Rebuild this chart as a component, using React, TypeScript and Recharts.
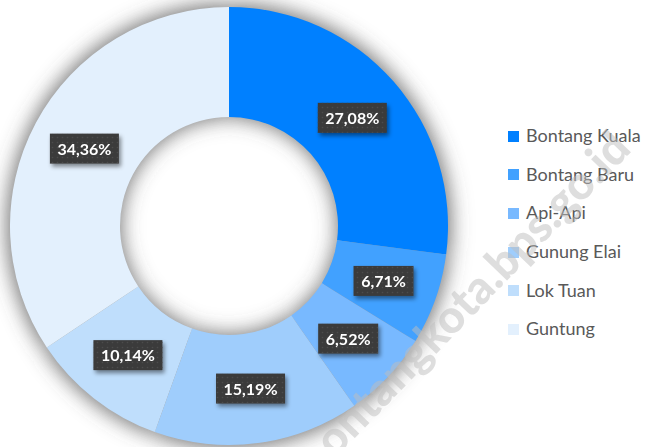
import { Cell, Legend, Pie, PieChart } from "recharts";

const kelurahan = ["Bontang Kuala", "Bontang Baru", "Api-Api", "Gunung Elai", "Lok Tuan", "Guntung"];
const persentase = [27.08, 6.71, 6.52, 15.19, 10.14, 34.36];
const warna = ["#0080FF", "#41A1FF", "#78B9FF", "#9FCDFC", "#BFDEFC", "#E3F0FD"];

const data = kelurahan.map((name, i) => ({ name, value: persentase[i] }));

const RADIAN = Math.PI / 180;
const FONT = "Lato, 'Open Sans', sans-serif";

function formatPct(v: number): string {
  return `${v.toFixed(2).replace(".", ",")}%`;
}

function textWidth(s: string): number {
  let w = 0;
  for (const ch of s) {
    if (ch === ",") w += 4;
    else if (ch === "%") w += 13;
    else w += 9;
  }
  return w;
}

function LabelBox(props: any) {
  const { cx, cy, midAngle, innerRadius, outerRadius, value } = props;
  const r = (innerRadius + outerRadius) / 2;
  const x = cx + r * Math.cos(-midAngle * RADIAN);
  const y = cy + r * Math.sin(-midAngle * RADIAN);
  const label = formatPct(value);
  const w = textWidth(label) + 16;
  const h = 30;
  return (
    <g>
      <rect
        x={x - w / 2}
        y={y - h / 2}
        width={w}
        height={h}
        fill="#3a3a3a"
        filter="url(#boxShadow)"
      />
      <rect x={x - w / 2} y={y - h / 2} width={w} height={h} fill="url(#dots)" />
      <text
        x={x}
        y={y}
        dy={6}
        fill="#ffffff"
        fontFamily={FONT}
        fontSize={16}
        fontWeight={700}
        textAnchor="middle"
      >
        {label}
      </text>
    </g>
  );
}

function LegendList() {
  return (
    <div style={{ fontFamily: FONT, fontSize: 18, color: "#595959" }}>
      {kelurahan.map((name, i) => (
        <div
          key={name}
          style={{ display: "flex", alignItems: "center", height: 38.6, whiteSpace: "nowrap" }}
        >
          <span
            style={{
              display: "inline-block",
              width: 11,
              height: 11,
              background: warna[i],
              marginRight: 7,
              marginTop: 2,
            }}
          />
          <span>{name}</span>
        </div>
      ))}
    </div>
  );
}

export default function App() {
  return (
    <div style={{ position: "relative", width: 649, height: 447, overflow: "hidden", background: "#fff" }}>
      <style>{"body{margin:0} .ring-shadow{filter:url(#ringShadow)}"}</style>
      <PieChart width={649} height={447} margin={{ top: 0, right: 0, bottom: 0, left: 0 }}>
        <defs>
          <filter id="ringShadow" x="-20%" y="-20%" width="140%" height="140%">
            <feGaussianBlur stdDeviation="7" />
          </filter>
          <filter id="boxShadow" x="-30%" y="-40%" width="160%" height="190%">
            <feDropShadow dx="2" dy="3" stdDeviation="2" floodColor="#000" floodOpacity="0.45" />
          </filter>
          <pattern id="dots" width="5" height="5" patternUnits="userSpaceOnUse">
            <circle cx="2.5" cy="2.5" r="0.8" fill="#4c4c4c" />
          </pattern>
        </defs>
        <Pie
          className="ring-shadow"
          data={data}
          dataKey="value"
          nameKey="name"
          cx={229}
          cy={226}
          innerRadius={107}
          outerRadius={223}
          startAngle={90}
          endAngle={-270}
          fill="#555555"
          stroke="none"
          opacity={0.75}
          legendType="none"
          isAnimationActive={false}
        />
        <Pie
          data={data}
          dataKey="value"
          nameKey="name"
          cx={229}
          cy={226}
          innerRadius={109}
          outerRadius={219}
          startAngle={90}
          endAngle={-270}
          stroke="none"
          label={LabelBox}
          labelLine={false}
          isAnimationActive={false}
        >
          {data.map((d, i) => (
            <Cell key={d.name} fill={warna[i]} />
          ))}
        </Pie>
        <Legend
          layout="vertical"
          align="right"
          verticalAlign="middle"
          wrapperStyle={{ left: 508, top: 116, width: 141, right: "auto", bottom: "auto" }}
          content={() => <LegendList />}
        />
      </PieChart>
      <div
        style={{
          position: "absolute",
          left: 462,
          top: 302,
          transform: "translate(-50%, -50%) rotate(-46deg)",
          fontFamily: FONT,
          fontWeight: 900,
          fontSize: 46,
          color: "rgba(190,190,190,0.5)",
          whiteSpace: "nowrap",
          pointerEvents: "none",
        }}
      >
        bontangkota.bps.go.id
      </div>
    </div>
  );
}
